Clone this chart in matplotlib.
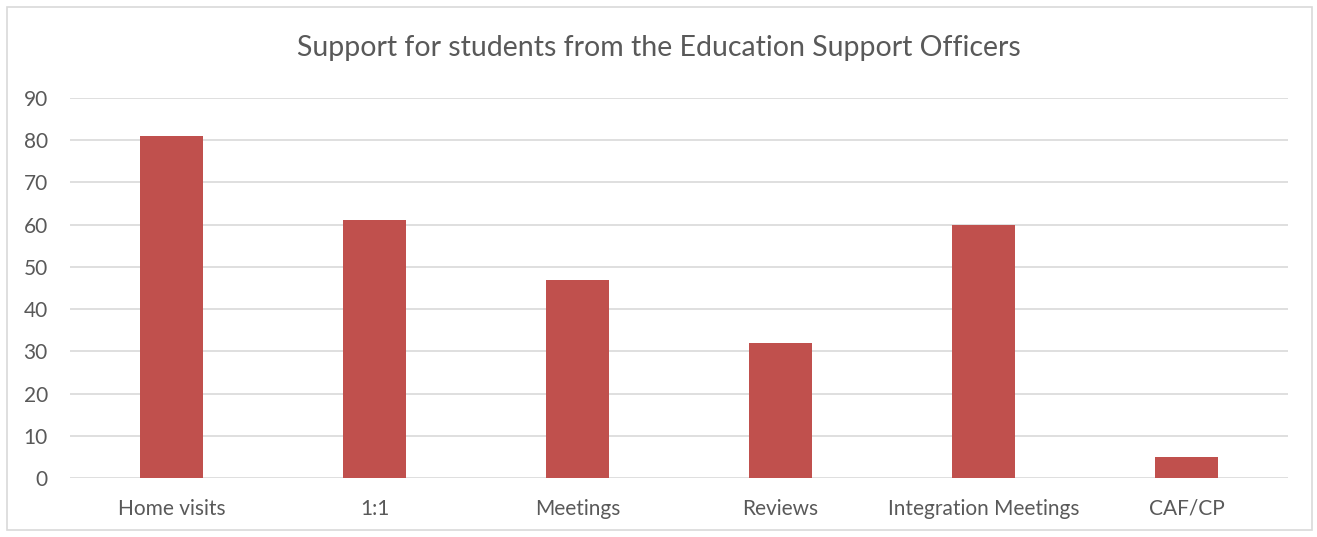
import matplotlib
matplotlib.use("Agg")
import matplotlib.pyplot as plt
from matplotlib.patches import Rectangle

categories = ["Home visits", "1:1", "Meetings", "Reviews", "Integration Meetings", "CAF/CP"]
values = [81, 61, 47, 32, 60, 5]
y_ticks = [0, 10, 20, 30, 40, 50, 60, 70, 80, 90]

plt.rcParams["font.family"] = ["Lato", "DejaVu Sans"]

fig = plt.figure(figsize=(13.17, 5.37), dpi=100)
fig.patch.set_facecolor("white")
fig.patches.append(Rectangle((7 / 1317, 7 / 537), 1305 / 1317, 523 / 537,
                             transform=fig.transFigure, fill=False,
                             edgecolor="#D9D9D9", linewidth=1.2))

ax = fig.add_axes([70 / 1317, 1 - 478 / 537, 1218 / 1317, 380 / 537])
x = list(range(len(categories)))
ax.bar(x, values, width=0.315, color="#C0504D", zorder=3)

ax.set_xlim(-0.5, len(categories) - 0.5)
ax.set_ylim(0, 90)
ax.set_yticks(y_ticks)
ax.set_xticks(x)
ax.set_xticklabels(categories)
ax.grid(axis="y", color="#D9D9D9", linewidth=1.2, zorder=0)
for s in ax.spines.values():
    s.set_visible(False)
ax.tick_params(axis="both", length=0, labelsize=15, labelcolor="#595959")
ax.tick_params(axis="x", pad=15)
ax.tick_params(axis="y", pad=16)

fig.text(0.5, 1 - 48 / 537, "Support for students from the Education Support Officers",
         ha="center", va="center", fontsize=20.5, color="#595959")

fig.savefig("out.png", dpi=100)
